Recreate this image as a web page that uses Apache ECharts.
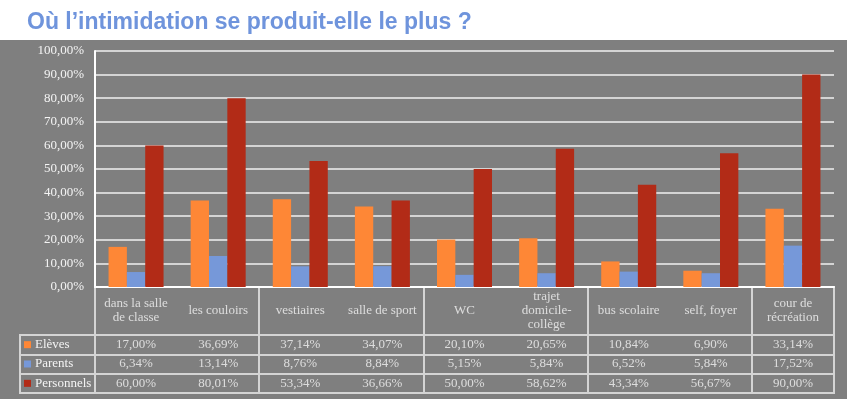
<!DOCTYPE html>
<html><head><meta charset="utf-8">
<script src="https://cdn.jsdelivr.net/npm/echarts@6/dist/echarts.min.js"></script>
<style>html,body{margin:0;padding:0;background:#fff}#c{width:847px;height:399px}</style>
</head><body><div id="c"></div>
<script>
const categories = ['dans la salle\nde classe','les couloirs','vestiaires','salle de sport','WC','trajet\ndomicile-\ncollège','bus scolaire','self, foyer','cour de\nrécréation'];
const seriesNames = ['Elèves','Parents','Personnels'];
const eleves = [17.00, 36.69, 37.14, 34.07, 20.10, 20.65, 10.84, 6.90, 33.14];
const parents = [6.34, 13.14, 8.76, 8.84, 5.15, 5.84, 6.52, 5.84, 17.52];
const personnels = [60.00, 80.01, 53.34, 36.66, 50.00, 58.62, 43.34, 56.67, 90.00];
const yMin = 0, yMax = 100, yStep = 10;

const colors = ['#fe8736', '#7698d9', '#b22b17'];
const allValues = [eleves, parents, personnels];
const fmt = v => v.toFixed(2).replace('.', ',') + '%';
const lineC = '#d4d4d4';
const txtC = '#f4f4f4';
const serif = 'Liberation Serif';

const cellData = [];
allValues.forEach((arr, r) => arr.forEach((v, c) => cellData.push([c, r, v])));

const rich = { t: { padding: [0, 0, 0, 4], color: txtC, fontFamily: serif, fontSize: 13 } };
colors.forEach((c, i) => { rich['s' + i] = { width: 7, height: 7, backgroundColor: c }; });

const chart = echarts.init(document.getElementById('c'), null, { renderer: 'canvas' });
chart.setOption({
  backgroundColor: '#ffffff',
  animation: false,
  title: {
    text: 'Où l’intimidation se produit-elle le plus ?',
    left: 22, top: 6,
    textStyle: { fontFamily: 'Liberation Sans', fontWeight: 'bold', fontSize: 23, color: '#6f94dc' }
  },
  graphic: [{ type: 'rect', silent: true, z: -10, shape: { x: 0, y: 40, width: 847, height: 359 }, style: { fill: '#7f7f7f' } }],
  grid: [
    { left: 95, right: 13, top: 51, height: 236 },
    { left: 95, right: 13, top: 287, height: 48, show: true, borderColor: lineC, borderWidth: 2 },
    { left: 95, right: 13, top: 335, height: 58, show: true, borderColor: lineC, borderWidth: 2 },
    { left: 20, width: 75, top: 335, height: 58, show: true, borderColor: lineC, borderWidth: 2 }
  ],
  xAxis: [
    { gridIndex: 0, type: 'category', data: categories, axisLine: { lineStyle: { color: '#ffffff', width: 2 } }, axisTick: { show: false }, axisLabel: { show: false } },
    { gridIndex: 1, type: 'category', data: categories, axisLine: { show: false }, axisTick: { show: false }, axisLabel: { show: false }, splitLine: { show: true, lineStyle: { color: lineC, width: 2 } } },
    { gridIndex: 2, type: 'category', data: categories, axisLine: { show: false }, axisTick: { show: false }, axisLabel: { show: false }, splitLine: { show: true, lineStyle: { color: lineC, width: 2 } } },
    { gridIndex: 3, type: 'value', show: false }
  ],
  yAxis: [
    { gridIndex: 0, type: 'value', min: yMin, max: yMax, interval: yStep,
      axisLine: { show: true, lineStyle: { color: '#ffffff', width: 2 } },
      splitLine: { lineStyle: { color: lineC, width: 2 } },
      axisLabel: { formatter: v => fmt(v), color: txtC, fontFamily: serif, fontSize: 13, margin: 11 } },
    { gridIndex: 1, type: 'value', min: 0, max: 1, show: false },
    { gridIndex: 2, type: 'category', data: seriesNames, inverse: true, axisLine: { show: false }, axisTick: { show: false }, axisLabel: { show: false }, splitLine: { show: true, lineStyle: { color: lineC, width: 2 } } },
    { gridIndex: 3, type: 'category', data: seriesNames, inverse: true, axisLine: { show: false }, axisTick: { show: false },
      splitLine: { show: true, lineStyle: { color: lineC, width: 2 } },
      axisLabel: { inside: true, margin: 4, align: 'left', formatter: (v, i) => '{s' + i + '|}{t|' + v + '}', rich: rich } }
  ],
  series: [
    ...seriesNames.map((n, i) => ({
      name: n, type: 'bar', xAxisIndex: 0, yAxisIndex: 0, data: allValues[i],
      barGap: '0%', barCategoryGap: '33%', itemStyle: { color: colors[i] }
    })),
    { type: 'scatter', xAxisIndex: 1, yAxisIndex: 1, symbolSize: 1, itemStyle: { color: 'rgba(0,0,0,0)' },
      data: categories.map((c, i) => [i, 0.5]),
      label: { show: true, position: 'inside', formatter: p => categories[p.dataIndex], color: txtC, fontFamily: serif, fontSize: 13, lineHeight: 14, align: 'center' } },
    { type: 'scatter', xAxisIndex: 2, yAxisIndex: 2, symbolSize: 1, itemStyle: { color: 'rgba(0,0,0,0)' },
      data: cellData,
      label: { show: true, position: 'inside', formatter: p => fmt(p.value[2]), color: txtC, fontFamily: serif, fontSize: 13 } }
  ]
});
</script></body></html>
